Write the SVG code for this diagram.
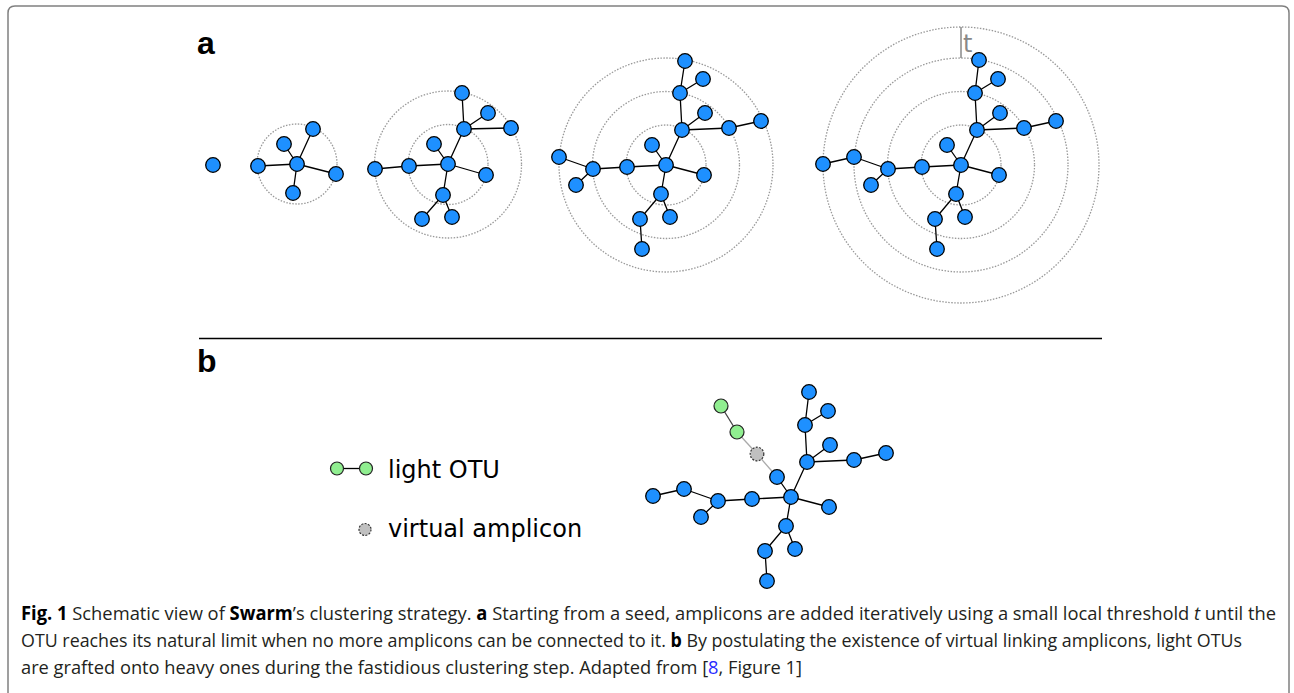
<svg xmlns="http://www.w3.org/2000/svg" width="1294" height="693" viewBox="0 0 1294 693">
<style>
.n{fill:#1E90FF;stroke:#000;stroke-width:1.3}
.gr{fill:#90EE90;stroke:#222;stroke-width:1.2}
.v{fill:#C0C0C0;stroke:#333;stroke-width:1.2;stroke-dasharray:2 1.4}
.ring{fill:none;stroke:#999;stroke-width:1.3;stroke-dasharray:1.5 1.5}
.e{stroke:#000;stroke-width:1.3;fill:none}
.ed{stroke:#444;stroke-width:1.3}
.el{stroke:#aaa;stroke-width:1.3}
.lbl{font-family:"Liberation Sans",Arial,sans-serif;font-weight:bold;font-size:32px;fill:#000}
.leg{font-family:"DejaVu Sans",Verdana,sans-serif;font-size:24px;fill:#000}
.cap{font-family:"Open Sans","Liberation Sans",sans-serif;font-size:19px;fill:#231f20}
.b{font-weight:bold;fill:#000}
</style>
<rect width="1294" height="693" fill="#fff"/>
<path d="M8,700 V13 Q8,6 15,6 H1282 Q1289,6 1289,13 V700" fill="none" stroke="#808080" stroke-width="1.5"/>
<text class="lbl" x="197" y="53.5">a</text>
<text class="lbl" x="197" y="372">b</text>
<line x1="199" y1="338.5" x2="1102" y2="338.5" stroke="#000" stroke-width="1.3"/>
<g id="rings">
<circle class="ring" cx="297" cy="164" r="40"/>
<circle class="ring" cx="448" cy="164.5" r="40"/>
<circle class="ring" cx="448" cy="164.5" r="73.5"/>
<circle class="ring" cx="666" cy="165" r="40"/>
<circle class="ring" cx="666" cy="165" r="73.5"/>
<circle class="ring" cx="666" cy="165" r="107"/>
<circle class="ring" cx="961" cy="165" r="40"/>
<circle class="ring" cx="961" cy="165" r="73.5"/>
<circle class="ring" cx="961" cy="165" r="107"/>
<circle class="ring" cx="961" cy="165" r="138"/>
</g>
<g id="t-marker">
<line x1="961" y1="27" x2="961" y2="58" stroke="#888" stroke-width="1.5"/>
<text x="963" y="52" font-family="DejaVu Sans,Verdana,sans-serif" font-size="24" fill="#888">t</text>
</g>
<g id="connectors">
<path class="e" d="M297,164L258,166M297,164L284,144M297,164L313,129M297,164L336,174M297,164L293,193"/>
<path class="e" d="M448,164L434,144M448,164L409,166M409,166L375,169M448,164L486,175M448,164L443,195M443,195L422,219M443,195L452,217M448,164L464,129M464,129L462,93M464,129L488,113M464,129L511,128"/>
<path class="e" d="M666,165L652,145M666,165L627,167M627,167L593,169M593,169L559,157M593,169L576,185M666,165L704,175M666,165L661,194M661,194L640,219M640,219L642,249M661,194L670,217M666,165L682,130M682,130L705,113M682,130L729,128M729,128L761,121M682,130L680,93M680,93L703,79M680,93L685,61"/>
<path class="e" d="M961,165L947,145M961,165L922,167M922,167L888,169M888,169L871,185M888,169L854,157M854,157L823,164M961,165L999,175M961,165L956,194M956,194L935,219M935,219L937,249M956,194L965,217M961,165L977,130M977,130L1000,113M977,130L1024,128M1024,128L1056,121M977,130L975,93M975,93L998,79M975,93L979,60"/>
<path class="e" d="M791,497L777,477M791,497L752,499M752,499L718,501M718,501L701,517M718,501L684,489M684,489L653,496M791,497L829,507M791,497L786,526M786,526L765,551M765,551L767,581M786,526L795,549M791,497L807,462M807,462L830,445M807,462L854,460M854,460L886,453M807,462L805,425M805,425L828,411M805,425L809,392"/>
<line class="ed" x1="721" y1="406" x2="737" y2="432"/>
<line class="el" x1="737" y1="432" x2="757" y2="454"/>
<line class="el" x1="757" y1="454" x2="777" y2="477"/>
<line class="e" x1="337" y1="468.5" x2="366" y2="468.5"/>
</g>
<g id="g1"><g id="g1-n0"><circle class="n" cx="213" cy="165" r="7.3"/></g></g>
<g id="g2">
<g id="g2-c"><circle class="n" cx="297" cy="164" r="7.3"/></g>
<g id="g2-l"><circle class="n" cx="258" cy="166" r="7.3"/></g>
<g id="g2-tl"><circle class="n" cx="284" cy="144" r="7.3"/></g>
<g id="g2-tr"><circle class="n" cx="313" cy="129" r="7.3"/></g>
<g id="g2-r"><circle class="n" cx="336" cy="174" r="7.3"/></g>
<g id="g2-b"><circle class="n" cx="293" cy="193" r="7.3"/></g>
</g>
<g id="g3">
<g id="g3-c"><circle class="n" cx="448" cy="164" r="7.3"/></g>
<g id="g3-tl"><circle class="n" cx="434" cy="144" r="7.3"/></g>
<g id="g3-l1"><circle class="n" cx="409" cy="166" r="7.3"/></g>
<g id="g3-l2"><circle class="n" cx="375" cy="169" r="7.3"/></g>
<g id="g3-r"><circle class="n" cx="486" cy="175" r="7.3"/></g>
<g id="g3-b"><circle class="n" cx="443" cy="195" r="7.3"/></g>
<g id="g3-bl"><circle class="n" cx="422" cy="219" r="7.3"/></g>
<g id="g3-br"><circle class="n" cx="452" cy="217" r="7.3"/></g>
<g id="g3-u1"><circle class="n" cx="464" cy="129" r="7.3"/></g>
<g id="g3-u2"><circle class="n" cx="462" cy="93" r="7.3"/></g>
<g id="g3-u1s"><circle class="n" cx="488" cy="113" r="7.3"/></g>
<g id="g3-u1r"><circle class="n" cx="511" cy="128" r="7.3"/></g>
</g>
<g id="g4">
<g id="g4-c"><circle class="n" cx="666" cy="165" r="7.3"/></g>
<g id="g4-tl"><circle class="n" cx="652" cy="145" r="7.3"/></g>
<g id="g4-l1"><circle class="n" cx="627" cy="167" r="7.3"/></g>
<g id="g4-l2"><circle class="n" cx="593" cy="169" r="7.3"/></g>
<g id="g4-l3"><circle class="n" cx="559" cy="157" r="7.3"/></g>
<g id="g4-l2d"><circle class="n" cx="576" cy="185" r="7.3"/></g>
<g id="g4-r"><circle class="n" cx="704" cy="175" r="7.3"/></g>
<g id="g4-b"><circle class="n" cx="661" cy="194" r="7.3"/></g>
<g id="g4-bl"><circle class="n" cx="640" cy="219" r="7.3"/></g>
<g id="g4-bld"><circle class="n" cx="642" cy="249" r="7.3"/></g>
<g id="g4-br"><circle class="n" cx="670" cy="217" r="7.3"/></g>
<g id="g4-u1"><circle class="n" cx="682" cy="130" r="7.3"/></g>
<g id="g4-u1s"><circle class="n" cx="705" cy="113" r="7.3"/></g>
<g id="g4-u1r"><circle class="n" cx="729" cy="128" r="7.3"/></g>
<g id="g4-u1rf"><circle class="n" cx="761" cy="121" r="7.3"/></g>
<g id="g4-u2"><circle class="n" cx="680" cy="93" r="7.3"/></g>
<g id="g4-u2s"><circle class="n" cx="703" cy="79" r="7.3"/></g>
<g id="g4-u3"><circle class="n" cx="685" cy="61" r="7.3"/></g>
</g>
<g id="g5">
<g id="g5-c"><circle class="n" cx="961" cy="165" r="7.3"/></g>
<g id="g5-tl"><circle class="n" cx="947" cy="145" r="7.3"/></g>
<g id="g5-l1"><circle class="n" cx="922" cy="167" r="7.3"/></g>
<g id="g5-l2"><circle class="n" cx="888" cy="169" r="7.3"/></g>
<g id="g5-l2d"><circle class="n" cx="871" cy="185" r="7.3"/></g>
<g id="g5-l3"><circle class="n" cx="854" cy="157" r="7.3"/></g>
<g id="g5-l4"><circle class="n" cx="823" cy="164" r="7.3"/></g>
<g id="g5-r"><circle class="n" cx="999" cy="175" r="7.3"/></g>
<g id="g5-b"><circle class="n" cx="956" cy="194" r="7.3"/></g>
<g id="g5-bl"><circle class="n" cx="935" cy="219" r="7.3"/></g>
<g id="g5-bld"><circle class="n" cx="937" cy="249" r="7.3"/></g>
<g id="g5-br"><circle class="n" cx="965" cy="217" r="7.3"/></g>
<g id="g5-u1"><circle class="n" cx="977" cy="130" r="7.3"/></g>
<g id="g5-u1s"><circle class="n" cx="1000" cy="113" r="7.3"/></g>
<g id="g5-u1r"><circle class="n" cx="1024" cy="128" r="7.3"/></g>
<g id="g5-u1rf"><circle class="n" cx="1056" cy="121" r="7.3"/></g>
<g id="g5-u2"><circle class="n" cx="975" cy="93" r="7.3"/></g>
<g id="g5-u2s"><circle class="n" cx="998" cy="79" r="7.3"/></g>
<g id="g5-u3"><circle class="n" cx="979" cy="60" r="7.3"/></g>
</g>
<g id="gb">
<g id="gb-c"><circle class="n" cx="791" cy="497" r="7.3"/></g>
<g id="gb-tl"><circle class="n" cx="777" cy="477" r="7.3"/></g>
<g id="gb-l1"><circle class="n" cx="752" cy="499" r="7.3"/></g>
<g id="gb-l2"><circle class="n" cx="718" cy="501" r="7.3"/></g>
<g id="gb-l2d"><circle class="n" cx="701" cy="517" r="7.3"/></g>
<g id="gb-l3"><circle class="n" cx="684" cy="489" r="7.3"/></g>
<g id="gb-l4"><circle class="n" cx="653" cy="496" r="7.3"/></g>
<g id="gb-r"><circle class="n" cx="829" cy="507" r="7.3"/></g>
<g id="gb-b"><circle class="n" cx="786" cy="526" r="7.3"/></g>
<g id="gb-bl"><circle class="n" cx="765" cy="551" r="7.3"/></g>
<g id="gb-bld"><circle class="n" cx="767" cy="581" r="7.3"/></g>
<g id="gb-br"><circle class="n" cx="795" cy="549" r="7.3"/></g>
<g id="gb-u1"><circle class="n" cx="807" cy="462" r="7.3"/></g>
<g id="gb-u1s"><circle class="n" cx="830" cy="445" r="7.3"/></g>
<g id="gb-u1r"><circle class="n" cx="854" cy="460" r="7.3"/></g>
<g id="gb-u1rf"><circle class="n" cx="886" cy="453" r="7.3"/></g>
<g id="gb-u2"><circle class="n" cx="805" cy="425" r="7.3"/></g>
<g id="gb-u2s"><circle class="n" cx="828" cy="411" r="7.3"/></g>
<g id="gb-u3"><circle class="n" cx="809" cy="392" r="7.3"/></g>
<g id="gb-virtual"><circle class="v" cx="757" cy="454" r="6.8"/></g>
<g id="gb-green2"><circle class="gr" cx="737" cy="432" r="7"/></g>
<g id="gb-green1"><circle class="gr" cx="721" cy="406" r="7"/></g>
</g>
<g id="legend">
<g id="leg-green1"><circle class="gr" cx="337" cy="468.5" r="6.5"/></g>
<g id="leg-green2"><circle class="gr" cx="366" cy="468.5" r="6.5"/></g>
<text class="leg" x="388" y="477.5">light OTU</text>
<g id="leg-virtual"><circle class="v" cx="365" cy="529.5" r="6"/></g>
<text class="leg" x="388" y="537">virtual amplicon</text>
</g>
<g id="caption">
<text class="cap" x="21" y="620" textLength="1255" lengthAdjust="spacingAndGlyphs"><tspan class="b">Fig. 1</tspan> Schematic view of <tspan class="b">Swarm</tspan>’s clustering strategy. <tspan class="b">a</tspan> Starting from a seed, amplicons are added iteratively using a small local threshold <tspan font-style="italic">t</tspan> until the</text>
<text class="cap" x="21" y="647" textLength="1221" lengthAdjust="spacingAndGlyphs">OTU reaches its natural limit when no more amplicons can be connected to it. <tspan class="b">b</tspan> By postulating the existence of virtual linking amplicons, light OTUs</text>
<text class="cap" x="21" y="674" textLength="781" lengthAdjust="spacingAndGlyphs">are grafted onto heavy ones during the fastidious clustering step. Adapted from [<tspan fill="#2a2aff">8</tspan>, Figure 1]</text>
</g>
</svg>
